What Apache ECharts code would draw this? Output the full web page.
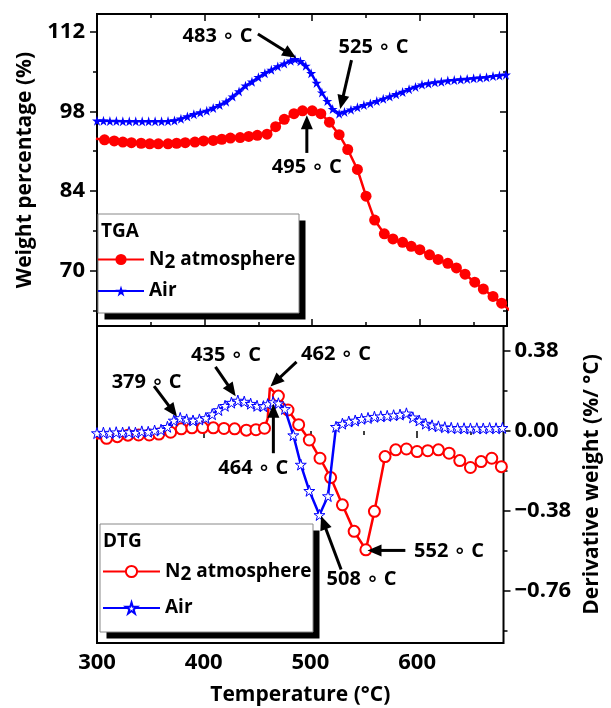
<!DOCTYPE html>
<html>
<head>
<meta charset="utf-8">
<script src="https://cdn.jsdelivr.net/npm/echarts@6/dist/echarts.min.js"></script>
</head>
<body style="margin:0">
<div id="container" style="width:611px;height:708px"></div>
<script>
var FONT = '"Open Sans", "DejaVu Sans", sans-serif';
var STAR = 'path://M50,0 L61,35 L98,35 L68,57 L79,91 L50,70 L21,91 L32,57 L2,35 L39,35 Z';

// temperature (°C), weight (%)
var tgaN2 = [
  [299,93.2],[307,93.0],[316,92.8],[324,92.6],[332,92.5],[341,92.4],[349,92.3],[357,92.3],
  [366,92.3],[374,92.4],[382,92.5],[391,92.6],[399,92.8],[408,92.9],[416,93.1],[424,93.3],
  [433,93.4],[441,93.6],[449,93.8],[458,94.0],[466,95.3],[474,96.6],[483,97.6],[491,98.1],
  [500,98.1],[508,97.6],[516,96.1],[525,93.9],[533,91.3],[542,87.8],[550,83.1],[558,78.9],
  [567,76.5],[575,75.6],[584,75.0],[592,74.3],[600,73.7],[609,72.8],[617,72.0],[626,71.3],
  [634,70.5],[642,69.4],[651,68.0],[659,66.8],[668,65.5],[676,64.3],[684,63.0]
];
var tgaAir = [
  [300,96.35],[306,96.35],[312,96.3],[318,96.3],[324,96.25],[330,96.25],[336,96.25],[342,96.25],
  [348,96.25],[354,96.25],[360,96.25],[366,96.3],[372,96.4],[378,96.7],[384,97.1],[390,97.5],
  [396,97.8],[402,98.1],[408,98.6],[414,99.1],[420,99.7],[426,100.6],[432,101.5],[438,102.5],
  [444,103.2],[450,104.0],[456,104.7],[462,105.3],[468,105.9],[474,106.4],[480,106.9],[484,107.15],
  [489,106.8],[494,106.0],[499,104.7],[504,103.0],[509,101.3],[514,99.8],[519,98.4],[525,97.6],
  [530,97.9],[536,98.3],[542,98.7],[548,99.1],[554,99.4],[560,99.8],[566,100.2],[572,100.6],
  [578,101.0],[584,101.4],[590,101.9],[596,102.3],[602,102.7],[608,102.9],[614,103.1],[620,103.2],
  [626,103.4],[632,103.5],[638,103.6],[644,103.7],[650,103.8],[656,103.9],[662,104.0],[668,104.2],
  [674,104.3],[680,104.45]
];
// temperature (°C), derivative weight (%/°C)
var dtgN2 = [
  [299,-0.035],[309,-0.035],[319,-0.027],[329,-0.02],[339,-0.019],[349,-0.019],[358,-0.015],
  [369,-0.006],[379,0.01],[389,0.015],[399,0.016],[409,0.015],[419,0.012],[429,0.01],[440,0.004],
  [449,0.006],[457,0.013],[460,0.06],[462,0.205],[470,0.166],[479,0.10],[489,0.03],[499,-0.043],
  [509,-0.13],[519,-0.222],[530,-0.352],[541,-0.478],[552,-0.566],[560,-0.383],[570,-0.122],
  [580,-0.09],[590,-0.086],[600,-0.098],[610,-0.094],[620,-0.09],[630,-0.106],[640,-0.141],
  [650,-0.174],[660,-0.146],[670,-0.13],[679,-0.17]
];
var dtgN2Plain = [460, 462];   // line points drawn without a circle
var dtgAir = [
  [300,-0.01],[306,-0.008],[312,-0.01],[318,-0.006],[324,-0.008],[330,-0.005],[336,-0.008],
  [342,-0.002],[348,-0.004],[354,0.002],[360,0.006],[366,0.02],[372,0.05],[378,0.062],
  [384,0.055],[390,0.05],[396,0.055],[402,0.062],[408,0.08],[414,0.1],[420,0.12],[426,0.135],
  [432,0.145],[438,0.14],[444,0.13],[450,0.12],[456,0.118],[460,0.128],[465,0.138],[470,0.132],
  [476,0.105],[484,-0.02],[491,-0.16],[499,-0.285],[508.5,-0.40],[516.5,-0.31],[524,0.02],
  [530,0.035],[536,0.045],[542,0.05],[548,0.058],[554,0.062],[560,0.068],[566,0.07],[572,0.072],
  [578,0.075],[584,0.078],[590,0.084],[596,0.065],[602,0.05],[608,0.035],[614,0.027],[620,0.022],
  [626,0.018],[632,0.015],[638,0.013],[644,0.013],[650,0.012],[656,0.013],[662,0.012],[668,0.014],
  [674,0.013],[680,0.015]
];

var xMajor = [300, 400, 500, 600];
var xMinor = [350, 450, 550, 650];
var tgaMajor = [70, 84, 98, 112];
var tgaMinor = [63, 77, 91, 105];
var dtgMajor = [-0.76, -0.38, 0, 0.38];
var dtgMinor = [-0.95, -0.57, -0.19, 0.19];

// annotations: text, text position, arrow start, arrow tip (data coords)
var tgaNotes = [
  ['483 \u2218 C', [412, 111.2], [449.5, 111.6], [485, 107.4]],
  ['525 \u2218 C', [557, 109.3], [536.5, 107.0], [526, 98.4]],
  ['495 \u2218 C', [495, 88.1], [495, 90.7], [495, 97.3]]
];
var dtgNotes = [
  ['379 \u2218 C', [346.5, 0.233], [353.5, 0.214], [375, 0.068]],
  ['435 \u2218 C', [421, 0.361], [411, 0.305], [430, 0.165]],
  ['462 \u2218 C', [524, 0.365], [487, 0.329], [462.5, 0.212]],
  ['464 \u2218 C', [446.5, -0.176], [465.3, -0.106], [465.3, 0.13]],
  ['508 \u2218 C', [548, -0.708], [528.8, -0.66], [510, -0.405]],
  ['552 \u2218 C', [630, -0.575], [589, -0.569], [553.5, -0.569]]
];

var legendNames = {
  TGA_N2: '{t|N}{s|2}{t| atmosphere}', TGA_Air: '{t|Air}',
  DTG_N2: '{t|N}{s|2}{t| atmosphere}', DTG_Air: '{t|Air}'
};

var nameStyle = { color: '#000', fontFamily: FONT, fontWeight: 'bold', fontSize: 21 };
var tickFont = { color: '#000', fontFamily: FONT, fontWeight: 'bold', fontSize: 22 };

function tickAxis(grid, pos, min, max, vals, len, inside) {
  return {
    type: 'value', gridIndex: grid, position: pos, min: min, max: max,
    axisLine: { show: false }, splitLine: { show: false },
    axisTick: { show: true, inside: inside, length: len, customValues: vals,
                lineStyle: { color: '#000', width: 1.5 } },
    axisLabel: { show: false }
  };
}

function withLabels(axis, vals, margin, fmt) {
  axis.axisLabel = Object.assign({ show: true, customValues: vals, margin: margin }, tickFont);
  if (fmt) axis.axisLabel.formatter = fmt;
  return axis;
}

function noteSeries(notes, xi, yi) {
  return {
    type: 'custom', xAxisIndex: xi, yAxisIndex: yi, z: 10, silent: true,
    data: notes.map(function (n) { return [n[2][0], n[2][1], n[3][0], n[3][1], n[1][0], n[1][1]]; }),
    renderItem: function (params, api) {
      var a = api.coord([api.value(0), api.value(1)]);
      var b = api.coord([api.value(2), api.value(3)]);
      var t = api.coord([api.value(4), api.value(5)]);
      var dx = b[0] - a[0], dy = b[1] - a[1];
      var L = Math.sqrt(dx * dx + dy * dy);
      var ux = dx / L, uy = dy / L, head = 14, half = 6;
      var base = [b[0] - ux * head, b[1] - uy * head];
      return {
        type: 'group',
        children: [
          { type: 'line', shape: { x1: a[0], y1: a[1], x2: base[0] + ux * 2, y2: base[1] + uy * 2 },
            style: { stroke: '#000', lineWidth: 3 } },
          { type: 'polygon', shape: { points: [b, [base[0] - uy * half, base[1] + ux * half], [base[0] + uy * half, base[1] - ux * half]] },
            style: { fill: '#000' } },
          { type: 'text', x: t[0], y: t[1],
            style: { text: notes[params.dataIndex][0], align: 'center', verticalAlign: 'middle',
                     font: 'bold 20px ' + FONT, fill: '#000' } }
        ]
      };
    }
  };
}

function legendOf(names, left, top, width, gap) {
  return {
    data: names, orient: 'vertical', left: left, top: top, padding: 0, z: 30,
    itemWidth: width, itemHeight: 14, itemGap: gap, selectedMode: false,
    formatter: function (n) { return legendNames[n]; },
    textStyle: {
      rich: {
        t: { fontFamily: FONT, fontWeight: 'bold', fontSize: 19, color: '#000', lineHeight: 26 },
        s: { fontFamily: FONT, fontWeight: 'bold', fontSize: 19, color: '#000', lineHeight: 15, verticalAlign: 'bottom' }
      }
    }
  };
}

function legendBox(x, y, w, h, title) {
  return [
    { type: 'rect', z: 20, shape: { x: x + 6.5, y: y + 6.5, width: w, height: h }, style: { fill: '#000' } },
    { type: 'rect', z: 21, shape: { x: x, y: y, width: w, height: h }, style: { fill: '#fff', stroke: '#888', lineWidth: 1 } },
    { type: 'text', z: 22, x: x + 3, y: y + 18, style: { text: title, font: 'bold 19px ' + FONT, fill: '#000', verticalAlign: 'middle' } }
  ];
}

var chart = echarts.init(document.getElementById('container'));

var xBottom = withLabels(tickAxis(1, 'bottom', 300, 681, xMajor, 7, false), xMajor, 9);
xBottom.name = 'Temperature (\u00b0C)';
xBottom.nameLocation = 'middle';
xBottom.nameGap = 42;
xBottom.nameTextStyle = nameStyle;

var yTga = withLabels(tickAxis(0, 'left', 60.3, 115.1, tgaMajor, 7, false), tgaMajor, 12);
yTga.name = 'Weight percentage (%)';
yTga.nameLocation = 'middle';
yTga.nameGap = 61;
yTga.nameTextStyle = nameStyle;

var yDtg = withLabels(tickAxis(1, 'right', -1.01, 0.5, dtgMajor, 7, false), dtgMajor, 11,
  function (v) { return (v < 0 ? '\u2212' : '') + Math.abs(v).toFixed(2); });
yDtg.name = 'Derivative weight (%/ \u00b0C)';
yDtg.nameLocation = 'middle';
yDtg.nameRotate = 90;
yDtg.nameGap = 76;
yDtg.nameTextStyle = nameStyle;

var option = {
  animation: false,
  backgroundColor: '#fff',
  grid: [
    { left: 97, top: 14, width: 410, height: 312, show: true, borderColor: '#000', borderWidth: 2, backgroundColor: 'transparent' },
    { left: 97, top: 326, width: 410, height: 317, show: true, borderColor: '#000', borderWidth: 2, backgroundColor: 'transparent' }
  ],
  xAxis: [
    tickAxis(0, 'bottom', 300, 681, xMajor, 7, true),
    tickAxis(0, 'bottom', 300, 681, xMinor, 4, true),
    tickAxis(0, 'top', 300, 681, xMajor, 7, true),
    tickAxis(0, 'top', 300, 681, xMinor, 4, true),
    xBottom,
    tickAxis(1, 'bottom', 300, 681, xMinor, 4, false)
  ],
  yAxis: [
    yTga,
    tickAxis(0, 'left', 60.3, 115.1, tgaMinor, 4, false),
    tickAxis(0, 'right', 60.3, 115.1, tgaMajor, 7, true),
    tickAxis(0, 'right', 60.3, 115.1, tgaMinor, 4, true),
    yDtg,
    tickAxis(1, 'right', -1.01, 0.5, dtgMinor, 4, false)
  ],
  legend: [
    legendOf(['TGA_N2', 'TGA_Air'], 97, 250, 46, 9),
    legendOf(['DTG_N2', 'DTG_Air'], 102, 562, 57, 14)
  ],
  graphic: legendBox(98, 214, 201, 99, 'TGA').concat(legendBox(100, 524, 213, 108, 'DTG')),
  series: [
    { name: 'TGA_N2', type: 'line', xAxisIndex: 0, yAxisIndex: 0, data: tgaN2,
      symbol: 'circle', symbolSize: 11, z: 3,
      lineStyle: { color: '#ff0000', width: 2.5 }, itemStyle: { color: '#ff0000' } },
    { name: 'TGA_Air', type: 'line', xAxisIndex: 0, yAxisIndex: 0, data: tgaAir,
      symbol: STAR, symbolSize: 10, z: 4,
      lineStyle: { color: '#0000ff', width: 2.5 }, itemStyle: { color: '#0000ff' } },
    { name: 'DTG_N2', type: 'line', xAxisIndex: 4, yAxisIndex: 4, z: 3,
      data: dtgN2.map(function (p) { return dtgN2Plain.indexOf(p[0]) >= 0 ? { value: p, symbol: 'none' } : p; }),
      symbol: 'emptyCircle', symbolSize: 11,
      lineStyle: { color: '#ff0000', width: 2.5 }, itemStyle: { color: '#ff0000', borderWidth: 1.2 } },
    { name: 'DTG_Air', type: 'line', xAxisIndex: 4, yAxisIndex: 4, data: dtgAir,
      symbol: STAR, symbolSize: 11, z: 4,
      lineStyle: { color: '#0000ff', width: 2.5 }, itemStyle: { color: '#fff', borderColor: '#0000ff', borderWidth: 1 } },
    noteSeries(tgaNotes, 0, 0),
    noteSeries(dtgNotes, 4, 4)
  ]
};
chart.setOption(option);
</script>
</body>
</html>
